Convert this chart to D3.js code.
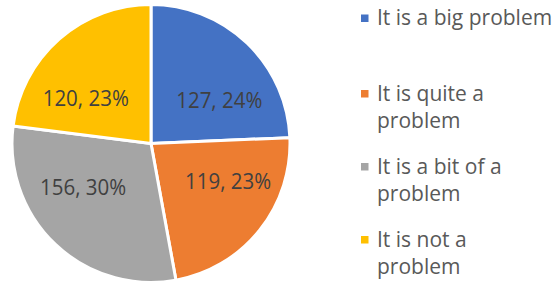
<!DOCTYPE html>
<html>
<head>
<meta charset="utf-8">
<script src="https://cdn.jsdelivr.net/npm/d3@7"></script>
<style>
  html, body { margin: 0; padding: 0; background: #ffffff; }
  svg { display: block; }
  text { font-family: "Open Sans", "Liberation Sans", sans-serif; }
</style>
</head>
<body>
<svg id="chart" width="554" height="286"></svg>
<script>
const categories = ["It is a big problem", "It is quite a problem", "It is a bit of a problem", "It is not a problem"];
const values = [127, 119, 156, 120];
const colors = ["#4472C4", "#ED7D31", "#A5A5A5", "#FFC000"];

const W = 554, H = 286;
const svg = d3.select("#chart");
const cx = 151, cy = 143.5, R = 139;

const total = d3.sum(values);
const data = categories.map((c, i) => ({ name: c, value: values[i], color: colors[i] }));

const pie = d3.pie().sort(null).value(d => d.value).startAngle(0).endAngle(2 * Math.PI);
const arcs = pie(data);
const arc = d3.arc().innerRadius(0).outerRadius(R);

const g = svg.append("g").attr("transform", `translate(${cx},${cy})`);

g.selectAll("path.slice")
  .data(arcs)
  .join("path")
  .attr("class", "slice")
  .attr("d", arc)
  .attr("fill", d => d.data.color)
  .attr("stroke", "#ffffff")
  .attr("stroke-width", 3)
  .attr("stroke-linejoin", "round");

// label placement on an ellipse inside the pie (wider horizontally)
const rxLab = R * 0.71, ryLab = R * 0.43;
g.selectAll("text.lab")
  .data(arcs)
  .join("text")
  .attr("class", "lab")
  .attr("transform", d => {
    const a = (d.startAngle + d.endAngle) / 2;
    return `translate(${Math.sin(a) * rxLab},${-Math.cos(a) * ryLab}) scale(1,1.06)`;
  })
  .attr("dy", "0.36em")
  .attr("text-anchor", "middle")
  .attr("font-size", 20.5)
  .attr("fill", "#404040")
  .text(d => `${d.data.value}, ${Math.round(d.data.value / total * 100)}%`);

// legend
const legX = 361, textX = 377, firstBase = 27.7, step = 73, lineH = 27, maxW = 176;
const leg = svg.append("g");
data.forEach((d, i) => {
  const t = leg.append("text")
    .attr("x", textX)
    .attr("font-size", 21)
    .attr("fill", "#595959");
  // word wrap
  const words = d.name.split(" ");
  const lines = [];
  let line = [];
  const probe = t.append("tspan");
  words.forEach(w => {
    line.push(w);
    probe.text(line.join(" "));
    if (probe.node().getComputedTextLength() > maxW && line.length > 1) {
      line.pop();
      lines.push(line.join(" "));
      line = [w];
    }
  });
  lines.push(line.join(" "));
  probe.remove();
  const base = firstBase + i * step - (lines.length === 1 ? 2.5 : 0);
  lines.forEach((s, k) => {
    t.append("tspan").attr("x", textX).attr("y", base + k * lineH).text(s);
  });
  leg.append("rect")
    .attr("x", legX)
    .attr("y", base - 10.7)
    .attr("width", 7.5)
    .attr("height", 7.5)
    .attr("fill", d.color);
});
</script>
</body>
</html>
